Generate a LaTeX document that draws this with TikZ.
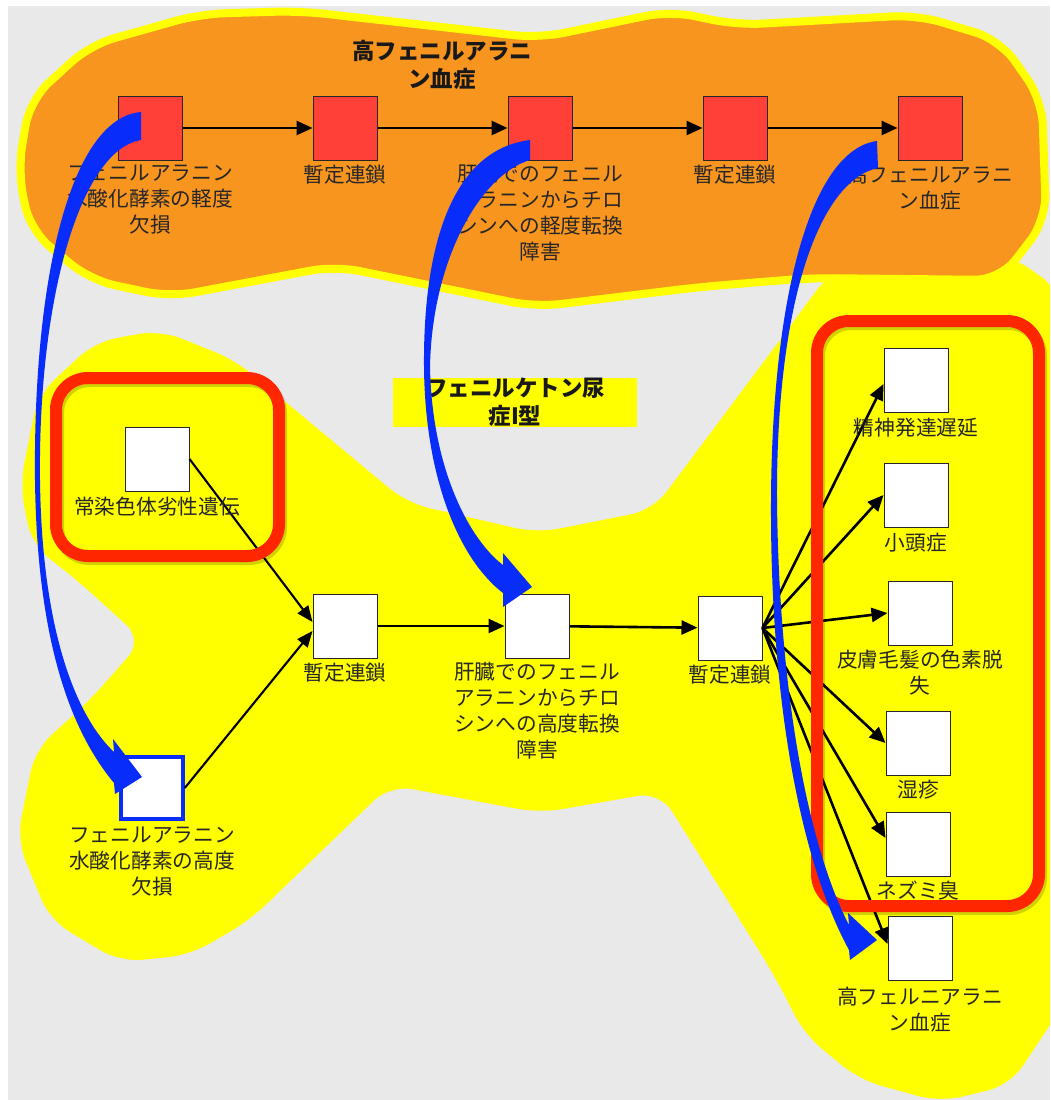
\documentclass[tikz,border=0pt]{standalone}
\usepackage{fontspec}
\setmainfont{Noto Sans CJK JP}
\usetikzlibrary{arrows.meta,calc}
\definecolor{bgray}{RGB}{233,233,233}
\definecolor{hullY}{RGB}{255,255,0}
\definecolor{orangeF}{RGB}{247,149,31}
\definecolor{redbox}{RGB}{255,64,56}
\definecolor{redrect}{RGB}{255,38,0}
\definecolor{bluearr}{RGB}{8,45,250}
\begin{document}
\begin{tikzpicture}[x=1pt,y=-1pt,
  box/.style={draw=black!85, line width=1pt, minimum width=64pt, minimum height=64pt, inner sep=0pt},
  redb/.style={box, fill=redbox},
  whiteb/.style={box, fill=white},
  lbl/.style={anchor=north, align=center, inner sep=0pt, font=\fontsize{20.7}{26}\selectfont, text=black!85},
  ttl/.style={align=center, inner sep=0pt, font=\fontsize{22.5}{28}\selectfont\bfseries, text=black!90},
  edge/.style={line width=2.6pt, black, -{Triangle[length=16pt,width=14pt]}},
  thinedge/.style={line width=2.1pt, black, -{Triangle[length=16pt,width=13pt]}},
  frame/.style={redrect, line width=12pt, rounded corners=32pt},
  frameshadow/.style={black, opacity=0.18, line width=12pt, rounded corners=32pt},
  fat/.style={fill=bluearr}
]
\useasboundingbox (0,0) rectangle (1050,1100);
\fill[white] (0,0) rectangle (1050,1100);
\fill[bgray] (8,6) rectangle (1050,1100);
\clip (0,0) rectangle (1050,1100);

% lower hull
\fill[hullY, rounded corners=22pt]
 (20,485) -- (38,395) -- (95,342) -- (160,330) -- (235,360) -- (407,503) -- (537,533)
 -- (653,510) -- (780,340) -- (830,272) -- (1010,255) -- (1060,290) -- (1060,1010)
 -- (1010,1085) -- (940,1102) -- (860,1080) -- (805,1035) -- (773,973) -- (660,792)
 -- (540,813) -- (390,785) -- (250,920) -- (190,955) -- (120,962) -- (50,920)
 -- (17,840) -- (35,750) -- (90,700) -- (143,640) -- (77,580) -- (32,545) -- cycle;

% upper hull
\draw[hullY, line width=8pt, fill=orangeF, rounded corners=25pt]
 (18,170) -- (30,100) -- (90,45) -- (200,14) -- (300,11) -- (539,38) -- (670,11)
 -- (737,25) -- (918,15) -- (1000,40) -- (1042,100) -- (1046,220) -- (1000,280)
 -- (810,278) -- (700,287) -- (536,307) -- (335,266) -- (170,297) -- (90,280)
 -- (30,230) -- cycle;

% titles
\node[ttl, anchor=north] (T1) at (442,40) {高フェニルアラニ\\ン血症};
\node[ttl, fill=hullY, minimum width=244pt, minimum height=49pt] (T2) at (515,402) {フェニルケトン尿\\症I型};

% nodes
\node[redb] (A1) at (150,128) {};
\node[redb] (A2) at (345,128) {};
\node[redb] (A3) at (540,128) {};
\node[redb] (A4) at (735,128) {};
\node[redb] (A5) at (930,128) {};

\node[whiteb] (B1) at (157,459) {};
\node[whiteb] (B2) at (345,626) {};
\node[whiteb] (B3) at (537,626) {};
\node[whiteb] (B4) at (730,628) {};
\node[whiteb, draw=bluearr, line width=3.5pt, minimum width=62pt, minimum height=62pt] (B5) at (152,788) {};

\node[whiteb] (C1) at (916,380) {};
\node[whiteb] (C2) at (916,495) {};
\node[whiteb] (C3) at (920,613) {};
\node[whiteb] (C4) at (918,743) {};
\node[whiteb] (C5) at (918,844) {};
\node[whiteb] (C6) at (920,948) {};

% edges
\draw[edge] (A1) -- (A2);
\draw[edge] (A2) -- (A3);
\draw[edge] (A3) -- (A4);
\draw[edge] (A4) -- (A5);
\draw[edge] (B2) -- (B3);
\draw[edge] (B3) -- (B4);
\draw[thinedge] (B1.east) -- ([yshift=4pt]B2.west);
\draw[thinedge] (B5.east) -- ([yshift=-5pt]B2.west);
\draw[edge] (B4.east) -- ([yshift=-4pt]C1.west);
\draw[edge] (B4.east) -- (C2.west);
\draw[edge] (B4.east) -- (C3.west);
\draw[edge] (B4.east) -- (C4.west);
\draw[edge] (B4.east) -- ([yshift=6pt]C5.west);
\draw[edge] (B4.east) -- ([yshift=4pt]C6.west);

% labels
\node[lbl] (A1l) at ([yshift=-4pt]A1.south) {フェニルアラニン\\水酸化酵素の軽度\\欠損};
\node[lbl] (A2l) at ([yshift=-4pt]A2.south) {暫定連鎖};
\node[lbl] (A3l) at ([yshift=-4pt]A3.south) {肝臓でのフェニル\\アラニンからチロ\\シンへの軽度転換\\障害};
\node[lbl] (A4l) at ([yshift=-4pt]A4.south) {暫定連鎖};
\node[lbl] (A5l) at ([yshift=-4pt]A5.south) {高フェニルアラニ\\ン血症};
\node[lbl] (B1l) at ([yshift=-5pt]B1.south) {常染色体劣性遺伝};
\node[lbl] (B2l) at ([yshift=-4pt]B2.south) {暫定連鎖};
\node[lbl] (B3l) at ([yshift=-4pt]B3.south) {肝臓でのフェニル\\アラニンからチロ\\シンへの高度転換\\障害};
\node[lbl] (B4l) at ([yshift=-4pt]B4.south) {暫定連鎖};
\node[lbl] (B5l) at ([yshift=-6pt]B5.south) {フェニルアラニン\\水酸化酵素の高度\\欠損};
\node[lbl] (C1l) at ([yshift=-5pt]C1.south) {精神発達遅延};
\node[lbl] (C2l) at ([yshift=-5pt]C2.south) {小頭症};
\node[lbl] (C3l) at ([yshift=-4pt]C3.south) {皮膚毛髪の色素脱\\失};
\node[lbl] (C4l) at ([yshift=-4pt]C4.south) {湿疹};
\node[lbl] (C5l) at ([yshift=-4pt]C5.south) {ネズミ臭};
\node[lbl] (C6l) at ([yshift=-6pt]C6.south) {高フェルニアラニ\\ン血症};

% red frames
\draw[frameshadow] (58,381) rectangle (281,559);
\draw[frame] (56,378) rectangle (279,556);
\draw[frameshadow] (819,324) rectangle (1041,909);
\draw[frame] (817,321) rectangle (1039,906);

% blue fat arrows
\coordinate (p1a) at (141,112);
\coordinate (p1b) at (141,140);
\coordinate (p1c) at (114,752);
\coordinate (p1d) at (114,783);
\coordinate (h1a) at (113,739);
\coordinate (h1b) at (142,777);
\coordinate (h1c) at (115,794);
\fill[fat] (p1a) .. controls (70,118) and (33,280) .. (35,480)
  .. controls (37,640) and (70,730) .. (p1d) -- (h1c) -- (h1b) -- (h1a) -- (p1c)
  .. controls (80,720) and (42,640) .. (40,480)
  .. controls (38,300) and (80,150) .. (p1b) -- cycle;

\coordinate (p2a) at (530,140);
\coordinate (p2b) at (530,160);
\coordinate (p2c) at (503,565);
\coordinate (p2d) at (503,593);
\coordinate (h2a) at (503,553);
\coordinate (h2b) at (532,587);
\coordinate (h2c) at (503,607);
\fill[fat] (p2a) .. controls (450,150) and (423,250) .. (424,367)
  .. controls (425,480) and (460,560) .. (p2d) -- (h2c) -- (h2b) -- (h2a) -- (p2c)
  .. controls (470,540) and (432,470) .. (430,367)
  .. controls (432,260) and (480,175) .. (p2b) -- cycle;

\coordinate (p3a) at (877,141);
\coordinate (p3b) at (878,168);
\coordinate (p3c) at (849,925);
\coordinate (p3d) at (849,950);
\coordinate (h3a) at (848,913);
\coordinate (h3b) at (877,940);
\coordinate (h3c) at (850,960);
\fill[fat] (p3a) .. controls (810,150) and (772,300) .. (771,500)
  .. controls (770,700) and (800,860) .. (p3d) -- (h3c) -- (h3b) -- (h3a) -- (p3c)
  .. controls (810,850) and (779,700) .. (777,500)
  .. controls (776,300) and (820,180) .. (p3b) -- cycle;
\end{tikzpicture}
\end{document}
